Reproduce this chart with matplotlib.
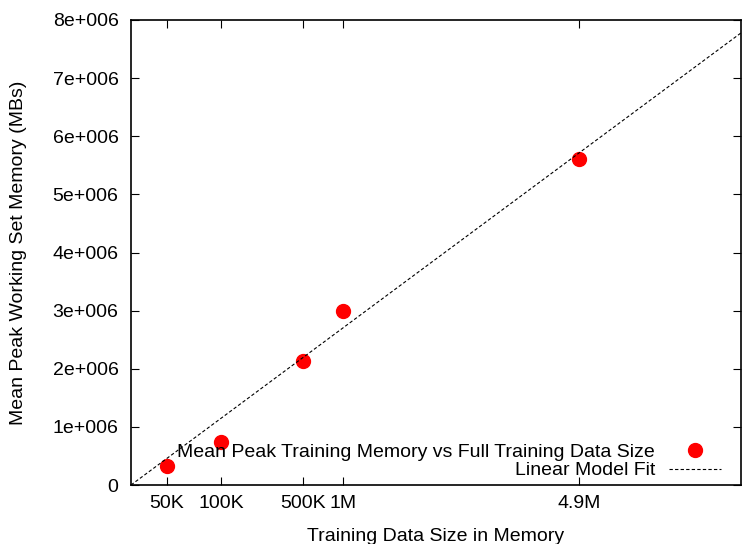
import numpy as np
import matplotlib.pyplot as plt

plt.rcParams['font.family'] = ['Liberation Sans', 'DejaVu Sans']
plt.rcParams['font.size'] = 14

# training data size in memory (arbitrary units) and mean peak memory
size_labels = ['50K', '100K', '500K', '1M', '4.9M']
data_size = [360, 900, 1720, 2120, 4480]
peak_memory = [327000, 740000, 2130000, 2990000, 5610000]

# linear model fit parameters
fit_slope = 1275.0
fit_intercept = 0.0

y_ticks = [0, 1e6, 2e6, 3e6, 4e6, 5e6, 6e6, 7e6, 8e6]
y_tick_labels = ['0', '1e+006', '2e+006', '3e+006', '4e+006', '5e+006', '6e+006', '7e+006', '8e+006']

fig = plt.figure(figsize=(7.46, 5.44), dpi=100)
ax = fig.add_axes([131/746, 59/544, 610/746, 465/544])

x_max = 6100
ax.plot(data_size, peak_memory, 'o', color='red', markersize=10,
        label='Mean Peak Training Memory vs Full Training Data Size')
xs = np.array([0, x_max])
ax.plot(xs, fit_slope * xs + fit_intercept, '--', color='black', linewidth=0.8,
        dashes=(3, 2), label='Linear Model Fit')

ax.set_xlim(0, x_max)
ax.set_ylim(0, 8e6)
ax.set_xticks(data_size)
ax.set_xticklabels(size_labels)
ax.set_yticks(y_ticks)
ax.set_yticklabels(y_tick_labels)
ax.tick_params(direction='in', top=True, right=True, length=6, width=0.8)
ax.tick_params(axis='x', pad=7.5)
ax.tick_params(axis='y', pad=9)
for s in ax.spines.values():
    s.set_linewidth(1.2)

ax.set_xlabel('Training Data Size in Memory', labelpad=11)
ax.set_ylabel('Mean Peak Working Set Memory (MBs)', labelpad=18)

ax.legend(loc='lower right', frameon=False, markerfirst=False, handlelength=2.7,
          handletextpad=0.7, borderpad=0, borderaxespad=0, labelspacing=0.05,
          bbox_to_anchor=((721 - 131) / 610, 0.012))

fig.savefig('out.png', dpi=100)
